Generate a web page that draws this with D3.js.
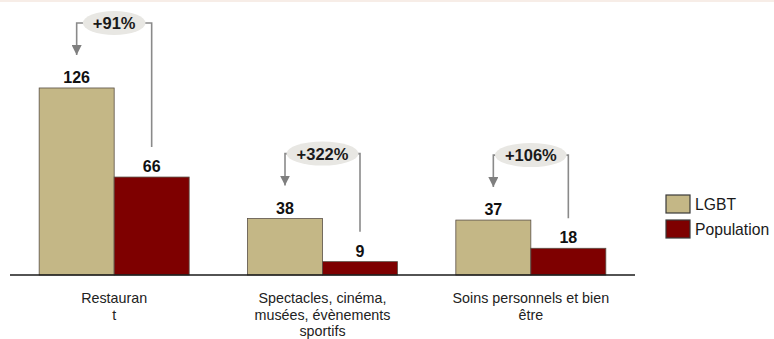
<!DOCTYPE html>
<html>
<head>
<meta charset="utf-8">
<script src="https://cdn.jsdelivr.net/npm/d3@7"></script>
<style>
  html, body { margin: 0; padding: 0; background: #fff; }
  svg { display: block; font-family: "Liberation Sans", Arial, sans-serif; }
</style>
</head>
<body>
<svg id="chart" width="774" height="339"></svg>
<script>
// Spending categories (label lines as printed under the axis)
const categories = ["Restaurant", "Spectacles", "Soins"];
const categoryLabels = [
  ["Restauran", "t"],
  ["Spectacles, cinéma,", "musées, évènements", "sportifs"],
  ["Soins personnels et bien", "être"]
];
const seriesNames = ["LGBT", "Population"];
const lgbtValues = [126, 38, 37];
const populationValues = [66, 9, 18];
const seriesColors = ["#c4b786", "#7e0000"];

const svg = d3.select("#chart");

// thin tinted rule along the top edge
svg.append("rect").attr("x", 0).attr("y", 0).attr("width", 774).attr("height", 2).attr("fill", "#f7ede7");

const x0 = d3.scaleBand().domain(categories).range([10, 635]).paddingInner(0.28).paddingOuter(0.14);
const x1 = d3.scaleBand().domain(seriesNames).range([0, x0.bandwidth()]);
const y = d3.scaleLinear().domain([0, 140]).range([275, 67.2]);

const rows = categories.map((c, i) => ({
  cat: c, vals: [lgbtValues[i], populationValues[i]]
}));

// bars
const g = svg.append("g");
rows.forEach(r => {
  r.vals.forEach((v, j) => {
    g.append("rect")
      .attr("x", x0(r.cat) + x1(seriesNames[j]))
      .attr("y", y(v))
      .attr("width", x1.bandwidth())
      .attr("height", y(0) - y(v))
      .attr("fill", seriesColors[j])
      .attr("stroke", "#5a5046")
      .attr("stroke-width", 0.8);
    g.append("text")
      .attr("x", x0(r.cat) + x1(seriesNames[j]) + x1.bandwidth() / 2)
      .attr("y", y(v) - 5)
      .attr("text-anchor", "middle")
      .attr("font-size", 16)
      .attr("font-weight", "bold")
      .attr("fill", "#111")
      .text(v);
  });
});

// baseline axis
svg.append("line")
  .attr("x1", 10).attr("x2", 635)
  .attr("y1", y(0)).attr("y2", y(0))
  .attr("stroke", "#1a1a1a").attr("stroke-width", 1.5);

// category labels
rows.forEach((r, i) => {
  const t = svg.append("text")
    .attr("text-anchor", "middle")
    .attr("font-size", 14.3)
    .attr("fill", "#222");
  categoryLabels[i].forEach((line, k) => {
    t.append("tspan")
      .attr("x", x0(r.cat) + x0.bandwidth() / 2)
      .attr("y", 303 + k * 16.5)
      .text(line);
  });
});

// growth annotations: arrow from population bar to LGBT bar with a percent bubble
const fmtPct = d3.format("+.0%");
const defs = svg.append("defs");
defs.append("marker")
  .attr("id", "arrowHead")
  .attr("viewBox", "0 0 10 10")
  .attr("refX", 5).attr("refY", 10)
  .attr("markerWidth", 10).attr("markerHeight", 10)
  .attr("markerUnits", "userSpaceOnUse")
  .attr("orient", "0")
  .append("path").attr("d", "M0,0 L10,0 L5,10 Z").attr("fill", "#7f7f7f");

rows.forEach(r => {
  const xl = x0(r.cat) + x1("LGBT") + x1.bandwidth() / 2;
  const xp = x0(r.cat) + x1("Population") + x1.bandwidth() / 2;
  const cx = x0(r.cat) + x0.bandwidth() / 2;
  const topL = y(r.vals[0]);
  const topP = y(r.vals[1]);
  const yb = topL - 65;
  const tip = topL - 33;

  svg.append("path")
    .attr("d", `M${xp},${topP - 30} V${yb} H${xl} V${tip}`)
    .attr("fill", "none")
    .attr("stroke", "#8a8a8a")
    .attr("stroke-width", 1.6)
    .attr("marker-end", "url(#arrowHead)");

  const label = fmtPct(r.vals[0] / r.vals[1] - 1);
  const txt = svg.append("text")
    .attr("x", cx).attr("y", yb + 6)
    .attr("text-anchor", "middle")
    .attr("font-size", 16.5)
    .attr("font-weight", "bold")
    .attr("fill", "#1a1a1a")
    .text(label);
  const w = txt.node().getComputedTextLength();
  svg.insert("ellipse", () => txt.node())
    .attr("cx", cx).attr("cy", yb)
    .attr("rx", w / 2 + 10).attr("ry", 12)
    .attr("fill", "#e8e7e3");
});

// legend
const legend = svg.append("g");
seriesNames.forEach((s, i) => {
  legend.append("rect")
    .attr("x", 666).attr("y", 195 + i * 25)
    .attr("width", 24).attr("height", 18)
    .attr("fill", seriesColors[i])
    .attr("stroke", "#3a3a3a").attr("stroke-width", 1.2);
  legend.append("text")
    .attr("x", 695).attr("y", 210 + i * 25)
    .attr("font-size", 15.7)
    .attr("fill", "#1a1a1a")
    .text(s);
});
</script>
</body>
</html>
